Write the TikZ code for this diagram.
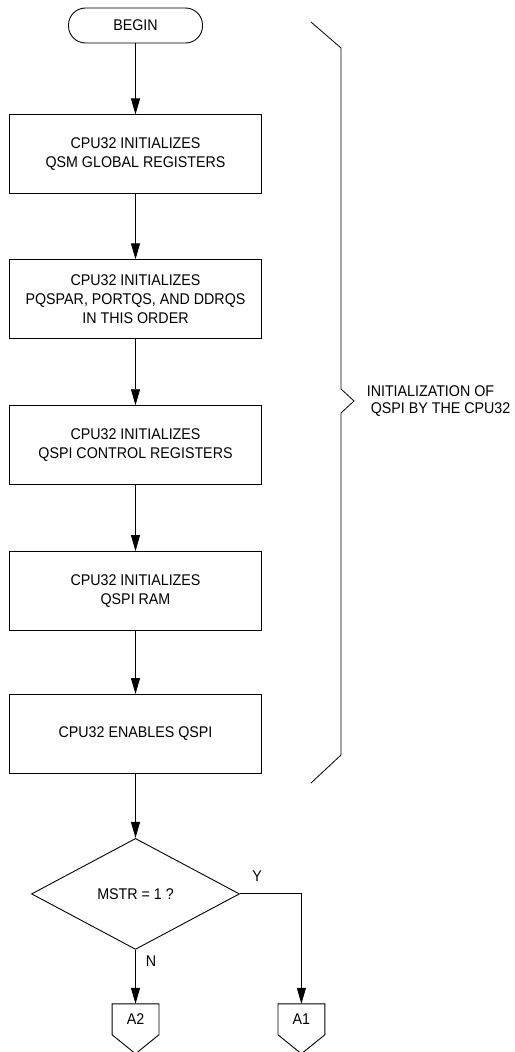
\documentclass[tikz,border=0pt]{standalone}
\usepackage{fontspec}
\setmainfont{Liberation Sans}[FakeStretch=0.92]
\usetikzlibrary{shapes.geometric, arrows.meta, positioning}

\begin{document}
\begin{tikzpicture}[
        every node/.style={font=\fontsize{15.5pt}{19pt}\selectfont},
        terminal/.style={draw, rectangle, rounded corners=17pt, minimum width=134pt, minimum height=35pt},
        process/.style={draw, rectangle, align=center, minimum width=252pt, minimum height=79pt},
        decision/.style={draw, diamond, aspect=1.87, minimum width=208pt, minimum height=111pt, inner sep=0pt},
        offpage/.style={rectangle, minimum width=46pt, minimum height=30pt, inner sep=0pt},
        flow/.style={-{Triangle[length=16pt, width=9pt]}},
        line width=0.9pt
    ]
    \useasboundingbox (0,0) rectangle (514pt,-1052pt);

    % Steps
    \node (Begin) [terminal] at (135.5pt,-25.5pt) {BEGIN};
    \node (Global) [process, below=71pt of Begin] {CPU32 INITIALIZES\\QSM GLOBAL REGISTERS};
    \node (Ports) [process, below=65pt of Global] {CPU32 INITIALIZES\\PQSPAR, PORTQS, AND DDRQS\\IN THIS ORDER};
    \node (Control) [process, below=66pt of Ports] {CPU32 INITIALIZES\\QSPI CONTROL REGISTERS};
    \node (Ram) [process, below=66pt of Control] {CPU32 INITIALIZES\\QSPI RAM};
    \node (Enable) [process, below=63pt of Ram] {CPU32 ENABLES QSPI};
    \node (Mstr) [decision, below=64pt of Enable] {MSTR = 1 ?};
    \node (A2) [offpage, below=54pt of Mstr] {A2};
    \node (A1) [offpage, right=119pt of A2] {A1};

    \foreach \p in {A1, A2}
        \draw (\p.north west) -- (\p.north east) -- (\p.south east) -- ([yshift=-19pt]\p.south) -- (\p.south west) -- cycle;

    % Flow
    \draw [flow] (Begin) -- (Global);
    \draw [flow] (Global) -- (Ports);
    \draw [flow] (Ports) -- (Control);
    \draw [flow] (Control) -- (Ram);
    \draw [flow] (Ram) -- (Enable);
    \draw [flow] (Enable) -- (Mstr);
    \draw [flow] (Mstr.south) -- (A2.north);
    \draw [flow] (Mstr.east) -| (A1.north);
    \node (No) [anchor=north west, inner sep=0pt] at ([xshift=10pt, yshift=-6pt]Mstr.south) {N};
    \node (Yes) [anchor=south west, inner sep=0pt] at ([xshift=12pt, yshift=12pt]Mstr.east) {Y};

    % Bracket
    \draw [line width=0.8pt] (311pt,-22pt) -- (341pt,-48pt) -- (341pt,-389pt) -- (354pt,-401pt)
        -- (341pt,-413pt) -- (341pt,-755pt) -- (311pt,-783pt);
    \node (Scope) [anchor=west, align=left, font=\fontsize{15.5pt}{17pt}\selectfont] at (363pt,-401pt)
        {INITIALIZATION OF\\\hspace*{4pt}QSPI BY THE CPU32};
\end{tikzpicture}
\end{document}
